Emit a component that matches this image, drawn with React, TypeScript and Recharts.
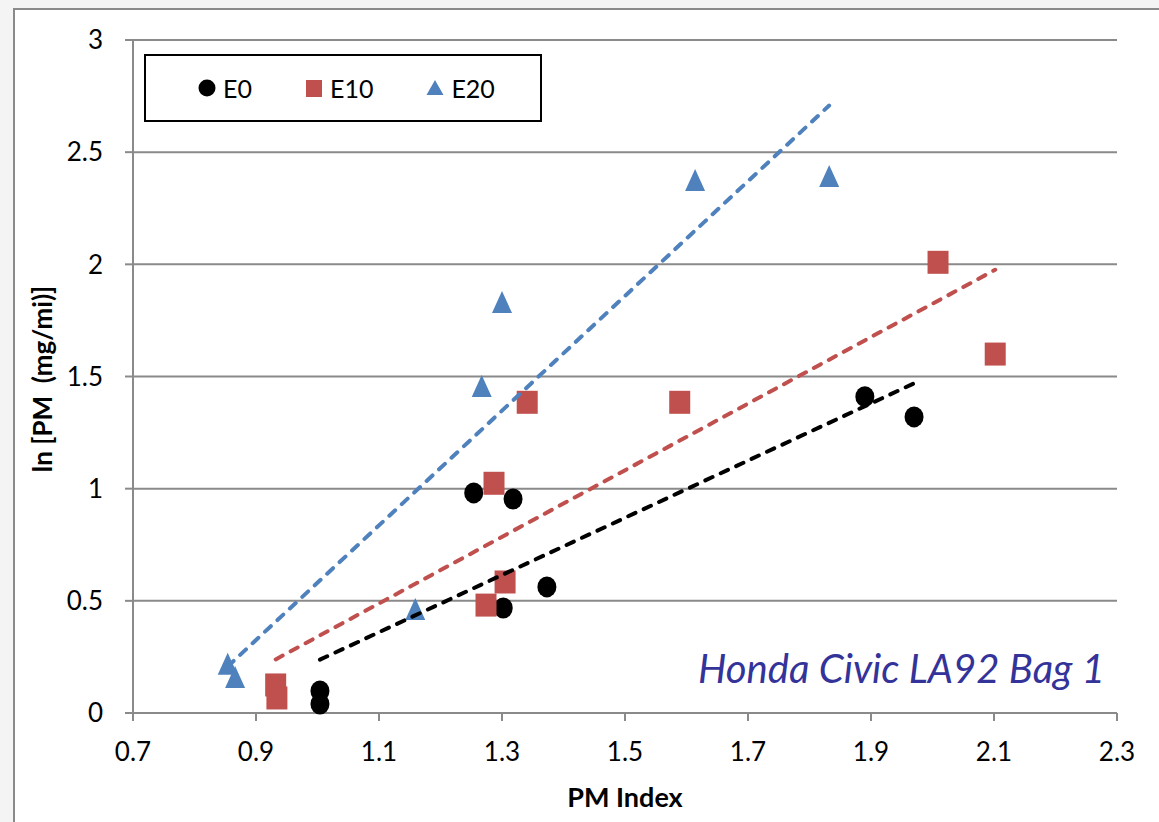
import { ScatterChart, Scatter, XAxis, YAxis, CartesianGrid, Legend } from "recharts";

// series values
const seriesNames = ["E0", "E10", "E20"];
const seriesColors = ["#000000", "#C0504D", "#4F81BD"];

const e0X = [1.004, 1.004, 1.254, 1.318, 1.302, 1.373, 1.89, 1.97];
const e0Y = [0.098, 0.04, 0.981, 0.954, 0.468, 0.562, 1.41, 1.32];

const e10X = [0.932, 0.934, 1.274, 1.305, 1.287, 1.341, 1.589, 2.009, 2.102];
const e10Y = [0.125, 0.067, 0.481, 0.584, 1.024, 1.385, 1.385, 2.009, 1.6];

const e20X = [0.854, 0.866, 1.159, 1.267, 1.3, 1.614, 1.832];
const e20Y = [0.219, 0.16, 0.464, 1.458, 1.832, 2.376, 2.394];

const xTicks = [0.7, 0.9, 1.1, 1.3, 1.5, 1.7, 1.9, 2.1, 2.3];
const yTicks = [0, 0.5, 1, 1.5, 2, 2.5, 3];

const FONT = "Lato, 'Open Sans', sans-serif";
const GRID = "#8a8a8a";

const toPoints = (xs: number[], ys: number[]) => xs.map((x, i) => ({ x, y: ys[i] }));

// linear least-squares trendline, drawn from min x to max x (like Excel)
const trend = (xs: number[], ys: number[]) => {
  const n = xs.length;
  const mx = xs.reduce((a, b) => a + b, 0) / n;
  const my = ys.reduce((a, b) => a + b, 0) / n;
  let sxy = 0;
  let sxx = 0;
  xs.forEach((x, i) => {
    sxy += (x - mx) * (ys[i] - my);
    sxx += (x - mx) * (x - mx);
  });
  const b = sxy / sxx;
  const a = my - b * mx;
  const lo = Math.min(...xs);
  const hi = Math.max(...xs);
  return [
    { x: lo, y: a + b * lo },
    { x: hi, y: a + b * hi },
  ];
};

const series = [
  { name: seriesNames[0], color: seriesColors[0], data: toPoints(e0X, e0Y), fit: trend(e0X, e0Y) },
  { name: seriesNames[1], color: seriesColors[1], data: toPoints(e10X, e10Y), fit: trend(e10X, e10Y) },
  { name: seriesNames[2], color: seriesColors[2], data: toPoints(e20X, e20Y), fit: trend(e20X, e20Y) },
];

const Circle = (p: any) => <ellipse cx={p.cx} cy={p.cy} rx={9.5} ry={10.5} fill="#000" />;
const Square = (p: any) => (
  <rect x={p.cx - 10.5} y={p.cy - 11.5} width={21} height={23} fill={seriesColors[1]} />
);
const Triangle = (p: any) => (
  <polygon
    points={`${p.cx},${p.cy - 11} ${p.cx - 10},${p.cy + 11} ${p.cx + 10},${p.cy + 11}`}
    fill={seriesColors[2]}
  />
);
const shapes = [Circle, Square, Triangle];

const LegendIcon = ({ i }: { i: number }) => (
  <svg width={18} height={18} style={{ marginRight: 7 }}>
    {i === 0 && <circle cx={9} cy={9} r={8.5} fill="#000" />}
    {i === 1 && <rect x={1} y={1} width={16} height={17} fill={seriesColors[1]} />}
    {i === 2 && <polygon points="9,1 0.5,16 17.5,16" fill={seriesColors[2]} />}
  </svg>
);

const LegendBox = () => (
  <div
    style={{
      boxSizing: "border-box",
      width: 398,
      height: 68,
      border: "2px solid #000",
      background: "#fff",
      display: "flex",
      alignItems: "center",
      paddingLeft: 52,
      fontFamily: FONT,
      fontSize: 25,
      color: "#000",
    }}
  >
    {seriesNames.map((n, i) => (
      <div key={n} style={{ display: "flex", alignItems: "center", marginRight: 53 }}>
        <LegendIcon i={i} />
        <span>{n}</span>
      </div>
    ))}
  </div>
);

export default function App() {
  return (
    <div
      style={{
        position: "absolute",
        left: 0,
        top: 0,
        width: 1159,
        height: 822,
        overflow: "hidden",
        background: "#f4f4f4",
      }}
    >
      {/* chart area frame, runs off the right and bottom edge */}
      <div
        style={{
          position: "absolute",
          left: 13,
          top: 8,
          width: 1200,
          height: 900,
          border: "2px solid #8a8a8a",
          background: "#fff",
        }}
      />
      <div style={{ position: "absolute", left: 0, top: 0 }}>
        <ScatterChart width={1159} height={822} margin={{ top: 40, right: 42, left: 0, bottom: 0 }}>
          <CartesianGrid vertical={false} stroke={GRID} strokeWidth={2} />
          <XAxis
            type="number"
            dataKey="x"
            domain={[0.7, 2.3]}
            ticks={xTicks}
            interval={0}
            height={109}
            tickSize={8}
            tickMargin={22}
            axisLine={{ stroke: GRID, strokeWidth: 2 }}
            tickLine={{ stroke: GRID, strokeWidth: 2 }}
            tick={{ fill: "#000", fontSize: 26, fontFamily: FONT }}
            tickFormatter={(v: number) => v.toFixed(1)}
            label={{
              content: () => (
                <text
                  x={625}
                  y={807}
                  textAnchor="middle"
                  fontFamily={FONT}
                  fontWeight="bold"
                  fontSize={27}
                  fill="#000"
                >
                  PM Index
                </text>
              ),
            }}
          />
          <YAxis
            type="number"
            dataKey="y"
            domain={[0, 3]}
            ticks={yTicks}
            interval={0}
            width={133}
            tickSize={8}
            tickMargin={22}
            axisLine={{ stroke: GRID, strokeWidth: 2 }}
            tickLine={{ stroke: GRID, strokeWidth: 2 }}
            tick={{ fill: "#000", fontSize: 26, fontFamily: FONT }}
            label={{
              content: () => (
                <text
                  x={52}
                  y={379}
                  transform="rotate(-90 52 379)"
                  textAnchor="middle"
                  fontFamily={FONT}
                  fontWeight="bold"
                  fontSize={26}
                  fill="#000"
                  style={{ whiteSpace: "pre" }}
                >
                  ln [PM  (mg/mi)]
                </text>
              ),
            }}
          />
          {series.map((s, i) => (
            <Scatter
              key={s.name}
              name={s.name}
              data={s.data}
              fill={s.color}
              shape={shapes[i]}
              isAnimationActive={false}
            />
          ))}
          {series.map((s) => (
            <Scatter
              key={s.name + "-fit"}
              data={s.fit}
              legendType="none"
              line={{
                stroke: s.color,
                strokeWidth: 4,
                strokeDasharray: "8 9",
                strokeLinecap: "round",
              }}
              shape={() => <g />}
              isAnimationActive={false}
            />
          ))}
          <Legend
            layout="horizontal"
            align="center"
            verticalAlign="middle"
            wrapperStyle={{ left: 144, top: 54, width: 398, height: 68 }}
            content={() => <LegendBox />}
          />
        </ScatterChart>
      </div>
      <svg
        width={1159}
        height={822}
        style={{ position: "absolute", left: 0, top: 0, pointerEvents: "none" }}
      >
        <text
          x={1105}
          y={683}
          textAnchor="end"
          fontFamily={FONT}
          fontStyle="italic"
          fontSize={40}
          fill="#333399"
        >
          Honda Civic LA92 Bag 1
        </text>
      </svg>
    </div>
  );
}
